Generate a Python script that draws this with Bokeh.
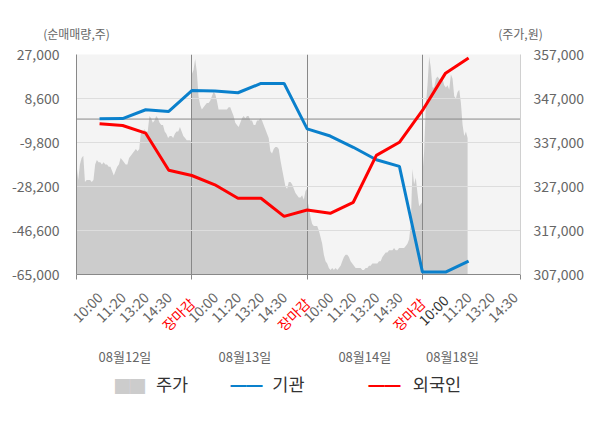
import math
import numpy as np
from bokeh.plotting import figure
from bokeh.models import (Range1d, LinearAxis, FixedTicker, NumeralTickFormatter, Span)
from bokeh.embed import file_html
from bokeh.resources import INLINE

FONT = "Noto Sans CJK KR"

# ---------------- data ----------------
dates = ["08월12일", "08월13일", "08월14일", "08월18일"]
day_times = ["10:00", "11:20", "13:20", "14:30", "장마감"]
time_labels = day_times * 3 + day_times[:4]
left_title = "(순매매량,주)"
right_title = "(주가,원)"
series_names = ["주가", "기관", "외국인"]

# cumulative net buying (shares) at each time label
inst = [100, 200, 3900, 3200, 11900, 11700, 11000, 14900, 14900,
        -4100, -7100, -11800, -17000, -19800, -64000, -64000, -59400]
foreign = [-2000, -2700, -5900, -21400, -23600, -27500, -33100, -33100, -40700,
           -38000, -39400, -34800, -15200, -9700, 3600, 19200, 25500]

# intraday price (won)
price_d1 = [332000, 328500, 332000, 333500, 334000, 328000, 328500, 328500, 328500, 328000,
            328500, 332000, 333000, 332500, 332500, 332000, 332500, 332000, 332000, 331500,
            331500, 330500, 329500, 330500, 331500, 332000, 333500, 333000, 332500, 332000,
            332000, 333500, 334000, 334500, 335000, 335500, 335000, 335500, 339500, 339500,
            340000, 339500, 339500, 343000, 342500, 341500, 342000, 343000, 342500, 341500,
            341000, 341000, 339500, 339000, 338000, 338500, 338500, 338000, 339000, 339500,
            339500, 340500, 339500, 338500, 338000, 337500, 337500, 337500, 337000]
price_d2 = [352500, 353500, 356000, 353000, 347500, 345500, 344500, 345000, 345500, 346000,
            346000, 346500, 347500, 348500, 348000, 346500, 344500, 344500, 344500, 344500,
            344500, 344500, 345000, 345000, 344000, 343000, 341500, 341000, 340500, 341500,
            342500, 343000, 342500, 343000, 343000, 342000, 342000, 341000, 341000, 342000,
            342000, 342500, 342000, 341000, 340000, 339000, 338000, 335000, 334500, 335500,
            336000, 336000, 335500, 333000, 331000, 329000, 327000, 326500, 328000, 328000,
            327500, 326500, 325500, 325000, 324500, 324500, 325000, 324000, 326000, 326500]
price_d3 = [324000, 322500, 320000, 318500, 318000, 318000, 318000, 317000, 315500, 314000,
            311500, 310000, 309500, 308500, 308000, 308500, 308000, 308500, 308000, 308500,
            309000, 310000, 311000, 311500, 311500, 311000, 310000, 309500, 309000, 308500,
            308500, 308500, 308500, 308000, 308000, 308500, 308500, 309000, 309000, 309500,
            309500, 309500, 309500, 310000, 310000, 311000, 311500, 312000, 312000, 312500,
            312500, 312500, 313000, 312500, 312500, 313000, 313000, 313000, 313000, 313500,
            314000, 315000, 318500, 331000, 327500, 329000, 325500, 322500, 323000, 323500]
price_d4 = [330000, 335000, 345500, 350000, 356500, 354000, 349500, 349500, 351500, 352000,
            351500, 351000, 351500, 350000, 349500, 350000, 349000, 352500, 351500, 347500,
            347000, 348500, 349000, 346000, 341000, 338500, 339500, 338000]

left_ticks = [27000, 8600, -9800, -28200, -46600, -65000]
right_ticks = [307000, 317000, 327000, 337000, 347000, 357000]

# ---------------- layout / style ----------------
SLOTS = len(day_times)
BLUE = "#0a80cc"
RED = "#ff0000"
AREA = "#cccccc"
GRAY_TXT = "#666666"
DARK = "#888888"
X_END = 19.25
STANDOFF = 15
SIZE_A = 54          # height of the first (gray) time-label axis
LH = 1.74            # label box height per px of font size
tick_pos = list(range(1, len(time_labels) + 1))
day_bounds = [SLOTS * d for d in range(len(dates))]
date_pos = [2.1, 7.3, 12.5, 16.3]
key_pos = [2.32, 7.37, 13.35]       # legend keys (x, data units)
key_text_pos = [4.14, 9.19, 15.63]  # legend texts
key_nudge = [-2, -5, -5]            # vertical fine-tuning of the keys (px)

# x positions of the intraday price samples
xs, ys = [], []
for d, arr in enumerate([price_d1, price_d2, price_d3]):
    xs.extend(np.linspace(SLOTS * d, SLOTS * (d + 1), len(arr)))
    ys.extend(arr)
step = SLOTS / (len(price_d3) - 1)
xs.extend(SLOTS * 3 + step * np.arange(len(price_d4)))
ys.extend(price_d4)

p = figure(frame_width=444, frame_height=220, output_backend="svg", toolbar_location=None,
           x_range=Range1d(0, X_END),
           y_range=Range1d(left_ticks[-1], left_ticks[0]),
           min_border_left=76, min_border_right=72, min_border_top=54,
           min_border_bottom=146)
p.extra_y_ranges = {"price": Range1d(right_ticks[0], right_ticks[-1])}
p.background_fill_color = "#f4f4f4"
p.border_fill_color = "white"
p.outline_line_color = None

area = p.varea(x=xs, y1=right_ticks[0], y2=ys, y_range_name="price",
               fill_color=AREA, level="image")
l_inst = p.line(tick_pos[:len(inst)], inst, line_color=BLUE, line_width=3)
l_for = p.line(tick_pos[:len(foreign)], foreign, line_color=RED, line_width=3)

# grids
p.xgrid.ticker = FixedTicker(ticks=day_bounds[1:])
p.xgrid.grid_line_color = DARK
p.ygrid.ticker = FixedTicker(ticks=left_ticks)
p.ygrid.grid_line_color = "#dddddd"
p.add_layout(Span(location=0, dimension="width", line_color=DARK, line_width=1,
                  level="underlay"))

# left axis
ya = p.yaxis[0]
ya.ticker = FixedTicker(ticks=left_ticks)
ya.formatter = NumeralTickFormatter(format="0,0")
ya.axis_line_color = DARK
ya.major_tick_line_color = None
ya.minor_tick_line_color = None
ya.major_label_standoff = 11
ya.major_label_text_font = FONT
ya.major_label_text_font_size = "14px"
ya.major_label_text_color = GRAY_TXT

# right axis
ra = LinearAxis(y_range_name="price", ticker=FixedTicker(ticks=right_ticks),
                formatter=NumeralTickFormatter(format="0,0"))
ra.axis_line_color = "#d0d0d0"
ra.major_tick_line_color = None
ra.minor_tick_line_color = None
ra.major_label_standoff = 7
ra.major_label_text_font = FONT
ra.major_label_text_font_size = "14px"
ra.major_label_text_color = GRAY_TXT
p.add_layout(ra, "right")


def plain_axis(ax):
    ax.axis_line_color = None
    ax.major_tick_line_color = None
    ax.minor_tick_line_color = None


def style_time_axis(ax, color, standoff):
    ax.major_label_orientation = math.pi / 4
    ax.major_label_standoff = standoff
    ax.major_label_text_font = FONT
    ax.major_label_text_font_size = "14px"
    ax.major_label_text_color = color
    ax.major_tick_out = 0
    ax.major_tick_in = 0
    ax.major_tick_line_color = None


def label_axis(ticks, texts, color, size_px, standoff, font=FONT):
    ax = LinearAxis(ticker=FixedTicker(ticks=ticks),
                    major_label_overrides={t: texts[i] for i, t in enumerate(ticks)})
    plain_axis(ax)
    ax.major_label_standoff = int(round(standoff))
    ax.major_label_text_font = font
    ax.major_label_text_font_size = f"{size_px}px"
    ax.major_label_text_color = color
    p.add_layout(ax, "below")
    return ax


close_label = day_times[-1]
current_idx = 3 * SLOTS  # first label of the last day is highlighted
gray_ticks = [t for i, t in enumerate(tick_pos)
              if time_labels[i] != close_label and i != current_idx]
red_ticks = [t for i, t in enumerate(tick_pos) if time_labels[i] == close_label]
cur_ticks = [tick_pos[current_idx]]

# A: gray time labels (real axis line + day-boundary ticks)
xa = p.xaxis[0]
xa.ticker = FixedTicker(ticks=gray_ticks, minor_ticks=day_bounds + [X_END])
xa.major_label_overrides = {t: time_labels[t - 1] for t in gray_ticks}
style_time_axis(xa, GRAY_TXT, STANDOFF)
xa.minor_tick_out = 5
xa.minor_tick_in = 0
xa.minor_tick_line_color = DARK
xa.axis_line_color = DARK

# C: highlighted current label, drawn on the same line as A
xc = LinearAxis(ticker=FixedTicker(ticks=cur_ticks),
                major_label_overrides={t: time_labels[t - 1] for t in cur_ticks})
style_time_axis(xc, "#333333", STANDOFF - SIZE_A)
plain_axis(xc)
p.add_layout(xc, "below")

# B: red market-close labels, drawn on the same line as A
xb = LinearAxis(ticker=FixedTicker(ticks=red_ticks),
                major_label_overrides={t: time_labels[t - 1] for t in red_ticks})
style_time_axis(xb, RED, STANDOFF - SIZE_A)
plain_axis(xb)
p.add_layout(xb, "below")

# D: dates
label_axis(date_pos, dates, GRAY_TXT, 13, -4)

# legend row built from label axes (texts, then the coloured keys on the same line)
TEXT_PX, BOX_PX, LINE_PX = 17.5, 15, 16
s_text = -4
center = s_text + LH * TEXT_PX / 2
cursor = s_text + LH * TEXT_PX
label_axis(key_text_pos, series_names, "#333333", TEXT_PX, s_text)
keys = [(key_pos[:1], ["██"], AREA, BOX_PX),
        (key_pos[1:2], ["━━"], BLUE, LINE_PX),
        (key_pos[2:3], ["━━"], RED, LINE_PX)]
for k, (ticks, txt, col, px) in enumerate(keys):
    h = LH * px
    s = round(center - h / 2 - cursor)
    label_axis(ticks, txt, col, px, s + key_nudge[k])
    cursor += s + h

# unit captions above both value axes
xt = LinearAxis(ticker=FixedTicker(ticks=[0, X_END]),
                major_label_overrides={0: left_title, X_END: right_title})
plain_axis(xt)
xt.major_label_standoff = 7
xt.major_label_text_font = FONT
xt.major_label_text_font_size = "12px"
xt.major_label_text_color = GRAY_TXT
p.add_layout(xt, "above")

open("out.html", "w").write(file_html(p, INLINE))
